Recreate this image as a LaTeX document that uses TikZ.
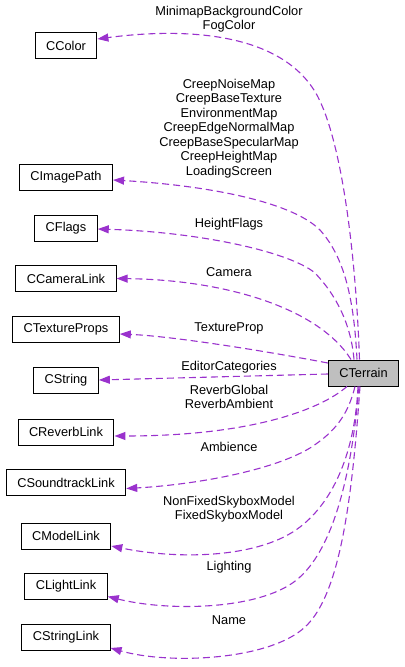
\documentclass[tikz,border=0pt]{standalone}
\usepackage{fontspec}
\setmainfont{Liberation Sans}
\usetikzlibrary{positioning}
\usetikzlibrary{arrows.meta}

\definecolor{edgepurple}{RGB}{154,50,205}
\definecolor{focusgray}{RGB}{191,191,191}

\begin{document}
\begin{tikzpicture}[x=1bp,y=-1bp,>={Triangle[length=11bp,width=8bp]},
    every node/.style={font=\fontsize{12.8bp}{14.5bp}\selectfont},
    classbox/.style={draw,line width=1bp,fill=white,minimum height=26bp,inner xsep=11bp,inner ysep=0pt},
    focusbox/.style={classbox,fill=focusgray},
    lbl/.style={align=center,inner sep=0pt},
    dep/.style={->,draw=edgepurple,line width=1.1bp,dash pattern=on 7bp off 4bp}]
    \useasboundingbox (0,0) rectangle (404,667);

    % the class boxes
    \node[focusbox] (cTerrain) at (363.5,373) {CTerrain};
    \node[classbox] (cColor) at (66,46) {CColor};
    \node[classbox] (cImagePath) at (66,177) {CImagePath};
    \node[classbox] (cFlags) at (66,228) {CFlags};
    \node[classbox] (cCameraLink) at (66,278.5) {CCameraLink};
    \node[classbox] (cTextureProps) at (66,329) {CTextureProps};
    \node[classbox] (cString) at (66,380) {CString};
    \node[classbox] (cReverbLink) at (66,432) {CReverbLink};
    \node[classbox] (cSoundtrackLink) at (66,482.5) {CSoundtrackLink};
    \node[classbox] (cModelLink) at (66,536) {CModelLink};
    \node[classbox] (cLightLink) at (66,586.5) {CLightLink};
    \node[classbox] (cStringLink) at (66,637) {CStringLink};

    % the member labels
    \node[lbl] (lblColor) at (229,19) {MinimapBackgroundColor\\FogColor};
    \node[lbl] (lblImagePath) at (229,128.5) {CreepNoiseMap\\CreepBaseTexture\\EnvironmentMap\\CreepEdgeNormalMap\\CreepBaseSpecularMap\\CreepHeightMap\\LoadingScreen};
    \node[lbl] (lblFlags) at (229,224) {HeightFlags};
    \node[lbl] (lblCamera) at (229,272) {Camera};
    \node[lbl] (lblTexture) at (229,328) {TextureProp};
    \node[lbl] (lblString) at (229,367) {EditorCategories};
    \node[lbl] (lblReverb) at (229,397) {ReverbGlobal\\ReverbAmbient};
    \node[lbl] (lblSoundtrack) at (229,447) {Ambience};
    \node[lbl] (lblModel) at (229,509) {NonFixedSkyboxModel\\FixedSkyboxModel};
    \node[lbl] (lblLight) at (229,567) {Lighting};
    \node[lbl] (lblStringLink) at (229,620) {Name};

    % the dependency arrows
    \draw[dep] ([xshift=-4bp]cTerrain.north) .. controls (356,260) and (343,146) .. (318,97)
        .. controls (283,30) and (180,28) .. ([yshift=7bp]cColor.east);
    \draw[dep] ([xshift=-6.5bp]cTerrain.north) .. controls (354,300) and (345,258) .. (320,230)
        .. controls (290,200) and (200,185) .. ([yshift=-3bp]cImagePath.east);
    \draw[dep] ([xshift=-9.5bp]cTerrain.north) .. controls (351,325) and (337,296) .. (315,273)
        .. controls (290,252) and (200,232) .. ([yshift=-1bp]cFlags.east);
    \draw[dep] ([xshift=-12.5bp]cTerrain.north) .. controls (320,310) and (230,280) .. (cCameraLink.east);
    \draw[dep] ([yshift=10bp]cTerrain.west) .. controls (260,350) and (170,336) .. ([yshift=-5bp]cTextureProps.east);
    \draw[dep] ([yshift=-1bp]cTerrain.west) -- (cString.east);
    \draw[dep] ([xshift=-16.5bp]cTerrain.south) .. controls (320,410) and (250,436) .. ([yshift=-4bp]cReverbLink.east);
    \draw[dep] ([xshift=-8.5bp]cTerrain.south) .. controls (348,415) and (335,432) .. (310,448)
        .. controls (270,472) and (190,485) .. ([yshift=-6bp]cSoundtrackLink.east);
    \draw[dep] ([xshift=-5.5bp]cTerrain.south) .. controls (355,450) and (335,500) .. (300,527)
        .. controls (260,558) and (180,560) .. ([yshift=-10bp]cModelLink.east);
    \draw[dep] ([xshift=-4.5bp]cTerrain.south) .. controls (352,470) and (335,545) .. (300,577)
        .. controls (265,610) and (170,612) .. ([yshift=-10bp]cLightLink.east);
    \draw[dep] ([xshift=-3.5bp]cTerrain.south) .. controls (352,500) and (340,595) .. (305,627)
        .. controls (270,660) and (170,665) .. ([yshift=-11bp]cStringLink.east);
\end{tikzpicture}
\end{document}
